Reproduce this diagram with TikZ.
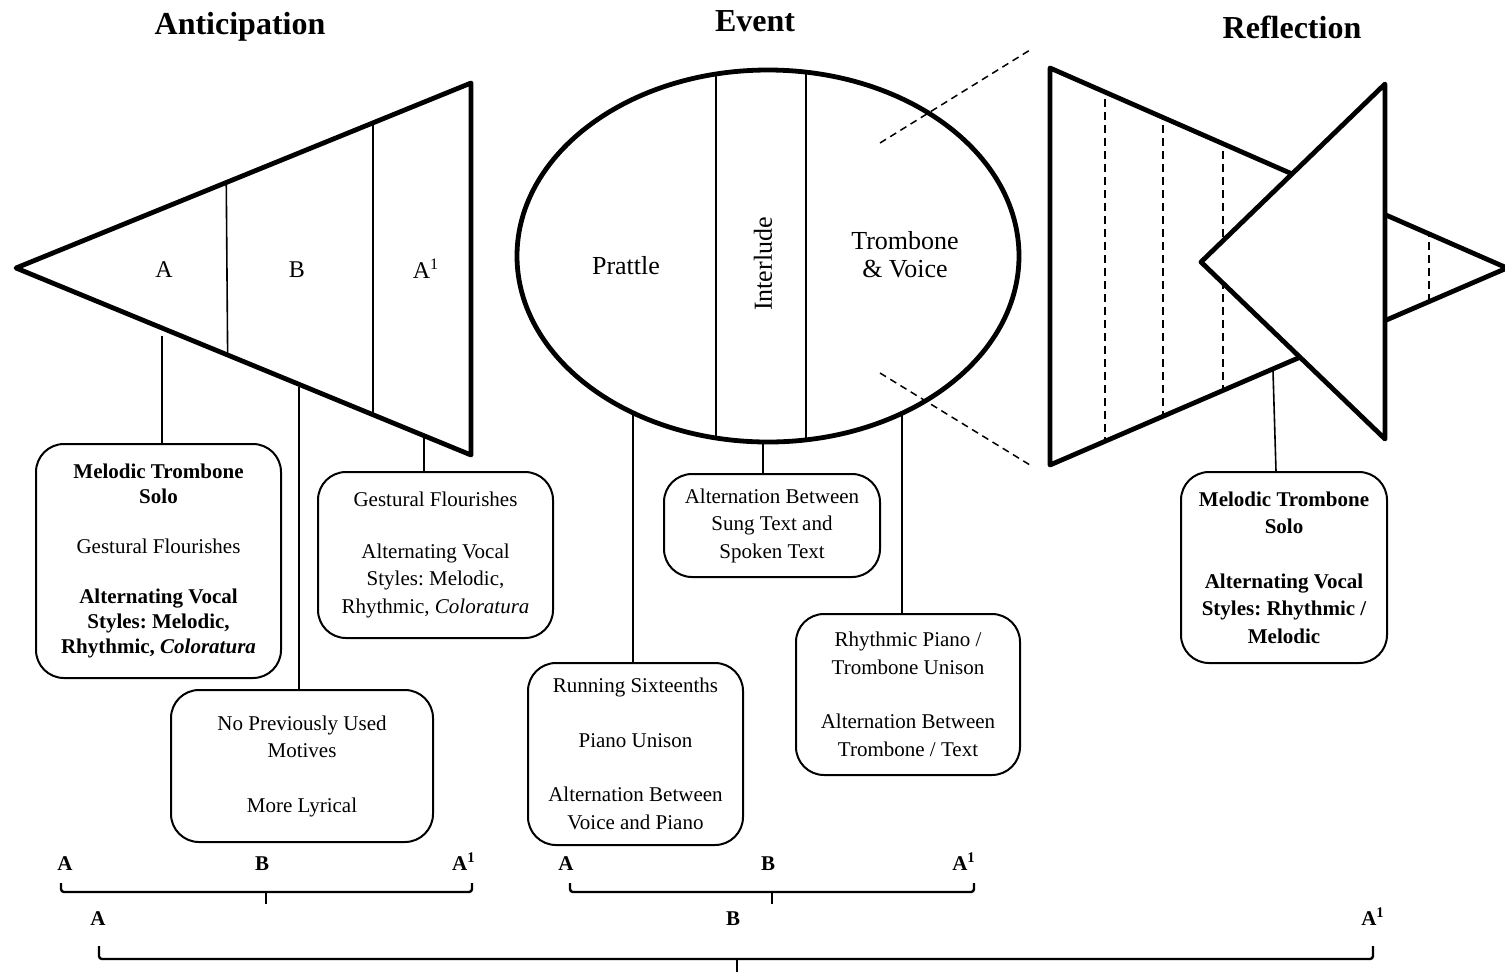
\documentclass[tikz,border=0pt]{standalone}
\usepackage{fontspec}
\setmainfont{Liberation Serif}
\usetikzlibrary{calc}
\frenchspacing
\begin{document}
\begin{tikzpicture}[x=0.5pt,y=-0.5pt,
  shapeline/.style={line width=2.4pt, line join=round},
  divider/.style={line width=0.8pt},
  dashdiv/.style={line width=0.8pt, dash pattern=on 4pt off 2.5pt},
  guide/.style={line width=0.75pt, dash pattern=on 3.5pt off 2.5pt},
  link/.style={line width=0.8pt},
  infobox/.style={draw, line width=1pt, rounded corners=14pt, align=center,
    inner sep=1pt, font=\fontsize{10.5pt}{13.75pt}\selectfont},
  title/.style={font=\fontsize{16pt}{19pt}\selectfont\bfseries},
  seclabel/.style={font=\fontsize{12pt}{14pt}\selectfont},
  evlabel/.style={font=\fontsize{13pt}{15pt}\selectfont, align=center},
  formlabel/.style={font=\fontsize{10.5pt}{12pt}\selectfont\bfseries},
  brace/.style={line width=1.2pt, rounded corners=1.5pt}
]
\useasboundingbox (0,0) rectangle (1505,971);

% ---------- titles ----------
\node[title] (tant) at (240,27) {Anticipation};
\node[title] (tevt) at (755,21) {Event};
\node[title] (tref) at (1292,27) {Reflection};

% ---------- Anticipation: opening wedge ----------
\begin{scope}
  \clip (16,268) -- (471,83) -- (471,455) -- cycle;
  \draw[divider] (226,150) -- (228,400);
  \draw[divider] (373,100) -- (373,440);
\end{scope}
\draw[shapeline] (16,268) -- (471,83) -- (471,455) -- cycle;
\node[seclabel] (la) at (164,270) {A};
\node[seclabel] (lb) at (297,270) {B};
\node[seclabel] (la1) at (426,269) {A\textsuperscript{1}};

% ---------- Event: ellipse in three parts ----------
\begin{scope}
  \clip (768,256) ellipse [x radius=251, y radius=186];
  \draw[divider] (716,40) -- (716,470);
  \draw[divider] (806,40) -- (806,470);
\end{scope}
\draw[shapeline] (768,256) ellipse [x radius=251, y radius=186];
\node[evlabel] (lpr) at (626,266) {Prattle};
\node[evlabel, rotate=90] (lint) at (763,264) {Interlude};
\node[evlabel] (ltv) at (905,255) {Trombone\\[-1pt]\& Voice};

% dashed guides towards the reflection figure
\coordinate (gu1) at (880,143);
\coordinate (gu2) at (1030,50);
\coordinate (gl1) at (880,373);
\coordinate (gl2) at (1030,465);
\draw[guide] (gu1) -- (gu2);
\draw[guide] (gl1) -- (gl2);

% ---------- Reflection: closing wedge and reversed wedge ----------
\begin{scope}
  \clip (1050,68) -- (1507,268) -- (1050,465) -- cycle;
  \draw[dashdiv] (1105,60) -- (1105,470);
  \draw[dashdiv] (1163,60) -- (1163,470);
  \draw[dashdiv] (1223,60) -- (1223,470);
  \draw[dashdiv] (1429,60) -- (1429,470);
\end{scope}
\draw[shapeline] (1050,68) -- (1507,268) -- (1050,465) -- cycle;
\draw[shapeline, fill=white] (1201,262) -- (1385,84) -- (1385,439) -- cycle;

% ---------- description boxes ----------
\node[infobox, minimum width=122.5pt, minimum height=117pt,
      font=\fontsize{10.5pt}{12.5pt}\selectfont] (b1) at (158.5,561)
  {\textbf{Melodic Trombone}\\\textbf{Solo}\\[12.5pt]Gestural Flourishes\\[12.5pt]
   \textbf{Alternating Vocal}\\\textbf{Styles: Melodic,}\\\textbf{Rhythmic, \textit{Coloratura}}};
\node[infobox, minimum width=117.5pt, minimum height=83pt] (b2) at (435.5,555)
  {Gestural Flourishes\\[12pt]Alternating Vocal\\Styles: Melodic,\\Rhythmic, \textit{Coloratura}};
\node[infobox, minimum width=131pt, minimum height=76pt] (b3) at (302,766)
  {No Previously Used\\Motives\\[13.5pt]More Lyrical};
\node[infobox, minimum width=107.5pt, minimum height=91pt] (b4) at (635.5,754)
  {Running Sixteenths\\[13.5pt]Piano Unison\\[13.5pt]Alternation Between\\Voice and Piano};
\node[infobox, minimum width=108pt, minimum height=51.5pt] (b5) at (772,525.5)
  {Alternation Between\\Sung Text and\\Spoken Text};
\node[infobox, minimum width=112pt, minimum height=80.5pt] (b6) at (908,694.5)
  {Rhythmic Piano /\\Trombone Unison\\[13.5pt]Alternation Between\\Trombone / Text};
\node[infobox, minimum width=103pt, minimum height=95.5pt, font=\fontsize{10.5pt}{13.75pt}\selectfont\bfseries] (b7) at (1284,567.5)
  {Melodic Trombone\\Solo\\[13.5pt]Alternating Vocal\\Styles: Rhythmic /\\Melodic};

% ---------- connectors from the figures to the boxes ----------
\coordinate (ca) at (162,336);
\coordinate (cb) at (299,387);
\coordinate (cc) at (424,438);
\coordinate (ce1) at (633,413);
\coordinate (ce2) at (763,442);
\coordinate (ce3) at (902,413);
\coordinate (cr) at (1273,371);
\draw[link] (ca) -- (ca |- b1.north);
\draw[link] (cb) -- (cb |- b3.north);
\draw[link] (cc) -- (cc |- b2.north);
\draw[link] (ce1) -- (ce1 |- b4.north);
\draw[link] (ce2) -- (ce2 |- b5.north);
\draw[link] (ce3) -- (ce3 |- b6.north);
\draw[link] (cr) -- (1276,0 |- b7.north);

% ---------- formal brackets ----------
\node[formlabel] (fa1) at (65,864) {A};
\node[formlabel] (fb1) at (262,864) {B};
\node[formlabel] (fc1) at (464,862) {A\textsuperscript{1}};
\draw[brace] (61,883) -- (61,892) -- (472,892) -- (472,883);
\draw[line width=1.3pt] (266,892) -- (266,904);

\node[formlabel] (fa2) at (566,864) {A};
\node[formlabel] (fb2) at (768,864) {B};
\node[formlabel] (fc2) at (964,862) {A\textsuperscript{1}};
\draw[brace] (570,883) -- (570,892) -- (974,892) -- (974,883);
\draw[line width=1.3pt] (772,892) -- (772,904);

\node[formlabel] (fa3) at (98,919) {A};
\node[formlabel] (fb3) at (733,919) {B};
\node[formlabel] (fc3) at (1373,917) {A\textsuperscript{1}};
\draw[brace] (99,946) -- (99,959) -- (1373,959) -- (1373,946);
\draw[line width=1.3pt] (737,959) -- (737,975);
\end{tikzpicture}
\end{document}
